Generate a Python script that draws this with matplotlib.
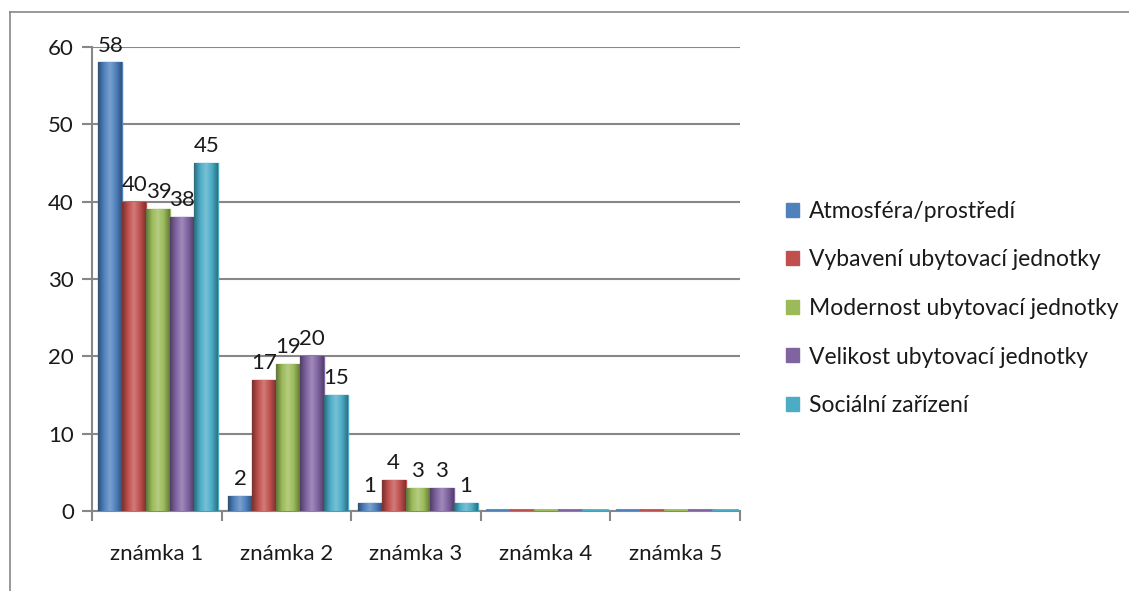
import matplotlib
matplotlib.use("Agg")
import matplotlib.pyplot as plt
import numpy as np
from matplotlib.colors import LinearSegmentedColormap, to_rgb
from matplotlib.patches import Patch

categories = ["známka 1", "známka 2", "známka 3", "známka 4", "známka 5"]
series_names = ["Atmosféra/prostředí", "Vybavení ubytovací jednotky",
                "Modernost ubytovací jednotky", "Velikost ubytovací jednotky",
                "Sociální zařízení"]
atmosfera = [58, 2, 1, 0, 0]
vybaveni = [40, 17, 4, 0, 0]
modernost = [39, 19, 3, 0, 0]
velikost = [38, 20, 3, 0, 0]
socialni = [45, 15, 1, 0, 0]
series_values = [atmosfera, vybaveni, modernost, velikost, socialni]
colors = ["#4F81BD", "#C0504D", "#9BBB59", "#8064A2", "#4BACC6"]
yticks = [0, 10, 20, 30, 40, 50, 60]

FONT = ["Lato", "DejaVu Sans"]
plt.rcParams['font.family'] = FONT
FS = 16

fig = plt.figure(figsize=(11.29, 5.91), dpi=100)
W, H = 1129, 591
# outer chart border
fig.add_artist(plt.Line2D([10/W, 1], [1-12/H, 1-12/H], color="#878787", lw=1.2))
fig.add_artist(plt.Line2D([10/W, 10/W], [0, 1-12/H], color="#878787", lw=1.2))

ax = fig.add_axes([92/W, 1-511/H, (740-92)/W, (511-47)/H])
ax.set_xlim(0, 5)
ax.set_ylim(0, 60)
for s in ["top", "right"]:
    ax.spines[s].set_visible(False)
ax.spines["left"].set_color("#878787")
ax.spines["bottom"].set_color("#878787")
ax.spines["left"].set_linewidth(1.5)
ax.spines["bottom"].set_linewidth(1.5)
ax.set_yticks(yticks)
ax.set_yticklabels([str(t) for t in yticks], fontsize=FS, color="#1a1a1a")
ax.set_xticks(np.arange(0, 6))
ax.set_xticklabels([])
ax.set_xticks(np.arange(5) + 0.5, minor=True)
ax.set_xticklabels(categories, minor=True, fontsize=FS, color="#1a1a1a")
ax.tick_params(axis="x", which="minor", length=0, pad=24)
ax.tick_params(axis="x", which="major", length=7, color="#878787", width=1.5, direction="out")
ax.tick_params(axis="y", length=7, color="#878787", width=1.5, pad=6)
ax.grid(axis="y", color="#878787", lw=1.5)
ax.set_axisbelow(True)

bw = 0.185
start = 0.05
x = np.arange(len(categories))

def shade(c):
    r = np.array(to_rgb(c))
    dark = r * 0.62
    light = np.clip(r + (1 - r) * 0.25, 0, 1)
    return LinearSegmentedColormap.from_list("g", [dark, r, light, r, dark * 1.05])

grad = np.linspace(0, 1, 64).reshape(1, -1)
for i, (name, vals, c) in enumerate(zip(series_names, series_values, colors)):
    xs = x + start + bw * i
    bars = ax.bar(xs, vals, width=bw, align="edge", color=c, label=name,
                  edgecolor=c, linewidth=1.0, zorder=3)
    cm = shade(c)
    for b, v in zip(bars, vals):
        if v > 0:
            im = ax.imshow(grad, cmap=cm, aspect="auto", zorder=3.5,
                           extent=[b.get_x(), b.get_x() + b.get_width(), 0, v])
            im.set_clip_path(b)
            ax.text(b.get_x() + b.get_width() / 2, v + 0.9, str(v), ha="center",
                    va="bottom", fontsize=FS, color="#1a1a1a", zorder=5)
        else:
            ax.plot([b.get_x(), b.get_x() + b.get_width()], [0.15, 0.15], color=c, lw=2, zorder=4)

ax.set_xlim(0, 5)
ax.set_ylim(0, 60)

handles = [Patch(facecolor=c, edgecolor=c) for c in colors]
leg = fig.legend(handles, series_names, loc="upper left", bbox_to_anchor=(786/W, 1-201/H),
                 frameon=False, fontsize=16.5, handlelength=0.55, handleheight=0.55,
                 handletextpad=0.45, labelspacing=1.2, borderpad=0, borderaxespad=0)
for t in leg.get_texts():
    t.set_color("#1a1a1a")

fig.savefig("out.png", dpi=100)
